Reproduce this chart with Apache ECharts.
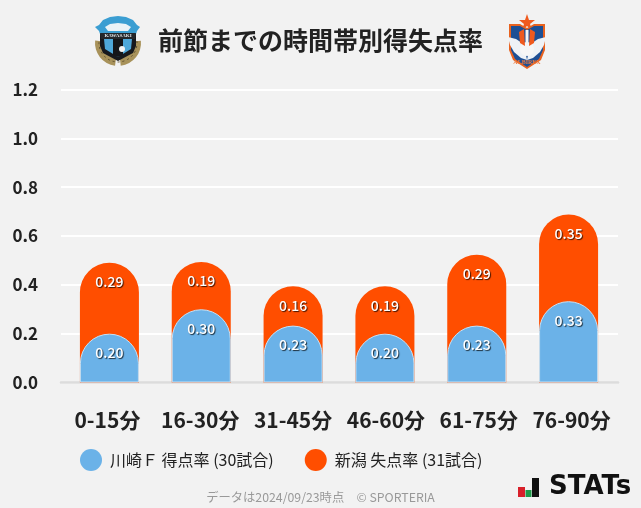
<!DOCTYPE html>
<html><head><meta charset="utf-8">
<style>html,body{margin:0;padding:0;background:#f2f2f2}#c{width:641px;height:508px}</style>
<script src="https://cdn.jsdelivr.net/npm/echarts@6/dist/echarts.min.js"></script>
</head><body><div id="c"></div>
<script>
const categories = ['0-15分','16-30分','31-45分','46-60分','61-75分','76-90分'];
const kawasakiFor = [0.200,0.300,0.233,0.200,0.233,0.333];
const niigataAgainst = [0.290,0.194,0.161,0.194,0.290,0.355];
const kawasakiName = '川崎Ｆ 得点率 (30試合)';
const niigataName = '新潟 失点率 (31試合)';
const titleText = '前節までの時間帯別得失点率';
const footerText = 'データは2024/09/23時点　© SPORTERIA';
const FONT = '"Noto Sans CJK JP","Noto Sans",sans-serif';

const stackTop = niigataAgainst.map((v,i)=>+(v+kawasakiFor[i]).toFixed(3));
const poly = (points,fill)=>({type:'polygon',shape:{points},style:{fill}});
const valueLabel = (vals)=>({show:true,position:'insideTop',distance:12,color:'#fff',fontFamily:FONT,
  fontSize:14,fontWeight:500,textShadowColor:'rgba(0,0,0,.75)',textShadowBlur:1,textShadowOffsetX:1,textShadowOffsetY:1,
  formatter:p=>vals[p.dataIndex].toFixed(2)});

const kawasakiBadge = {type:'group',children:[
  {type:'sector',shape:{cx:118,cy:43,r:23,r0:15,startAngle:-0.1,endAngle:1.45},style:{fill:'#a8925a'}},
  {type:'sector',shape:{cx:118,cy:43,r:23,r0:15,startAngle:1.7,endAngle:3.25},style:{fill:'#a8925a'}},
  {type:'arc',shape:{cx:118,cy:43,r:19,startAngle:-0.1,endAngle:3.25},style:{stroke:'#5e5030',lineWidth:1,lineDash:[2,3],fill:null}},
  poly([[100,33],[136,33],[136,46],[133,53],[118,61],[103,53],[100,46]],'#17191d'),
  poly([[104,39],[132,39],[131,49],[118,57],[105,49]],'#4ea8da'),
  poly([[113,39],[123,39],[123,55],[118,57],[113,55]],'#14161a'),
  {type:'circle',shape:{cx:122,cy:49,r:3},style:{fill:'#f4f4f4'}},
  poly([[95,27],[99,25],[103,20],[110,17],[118,16],[126,17],[133,20],[137,25],[140,27],[137,31],[136,34],[100,34],[99,31]],'#3b9ed2'),
  poly([[105,27],[110,24],[118,23],[126,24],[131,27],[128,31],[108,31]],'#eaf3f7'),
  poly([[100,33],[136,33],[135,39],[101,39]],'#24272b'),
  {type:'text',style:{x:118,y:36,text:'KAWASAKI',fill:'#dfe3e6',font:'700 5px "Liberation Serif"',align:'center',verticalAlign:'middle'}}
]};
const niigataBadge = {type:'group',children:[
  poly([[527,14],[529,20],[535,20],[530,24],[532,30],[527,26],[522,30],[524,24],[519,20],[525,20]],'#ef5a1e'),
  poly([[509,24],[520,24],[527,28],[534,24],[545,24],[545,50],[541,60],[527,69],[513,60],[509,50]],'#e8621f'),
  poly([[511,26],[520,26],[527,30],[534,26],[543,26],[543,50],[539,59],[527,67],[515,59],[511,50]],'#1d4f94'),
  poly([[508,37],[516,39],[522,43],[525,50],[527,60],[521,58],[514,52],[510,45]],'#eef2f6'),
  poly([[546,37],[538,39],[532,43],[529,50],[527,60],[533,58],[540,52],[544,45]],'#eef2f6'),
  {type:'circle',shape:{cx:527,cy:49,r:7},style:{fill:'#f6f6f6'}},
  poly([[519,32],[524,29],[525,46],[520,43]],'#ef5a1e'),
  poly([[530,29],[535,32],[534,43],[529,46]],'#ef5a1e'),
  poly([[525.5,30],[528.5,30],[528.5,52],[525.5,52]],'#f5f5f5'),
  {type:'text',style:{x:527,y:62,text:'ALBIREX',fill:'#ef7a3e',font:'700 6px "Liberation Serif"',align:'center',verticalAlign:'middle'}}
]};
const statsLogo = {type:'group',children:[
  {type:'rect',shape:{x:518,y:487,width:7,height:10},style:{fill:'#d8202a'}},
  {type:'rect',shape:{x:525.5,y:490,width:6,height:7},style:{fill:'#1f9a4a'}},
  {type:'rect',shape:{x:532,y:478,width:7,height:19},style:{fill:'#111'}},
  {type:'text',style:{x:549,y:487.5,text:'STATs',fill:'#111',font:'700 26px "DejaVu Sans",sans-serif',align:'left',verticalAlign:'middle'}}
]};

const chart = echarts.init(document.getElementById('c'),null,{renderer:'canvas'});
chart.setOption({
  animation:false,
  backgroundColor:'#f2f2f2',
  title:{text:titleText,left:'center',top:23,textStyle:{fontFamily:FONT,fontSize:25,fontWeight:700,color:'#222'}},
  legend:{left:75,top:444,icon:'circle',itemWidth:22,itemHeight:22,itemGap:31,itemStyle:{borderWidth:0},
    data:[kawasakiName,niigataName],textStyle:{fontFamily:FONT,fontSize:16,color:'#222',padding:[0,0,0,3]}},
  grid:[
    {left:63.5,width:551,top:89.5,height:293},
    {left:61,width:557,top:89.5,height:293}
  ],
  xAxis:[
    {type:'category',gridIndex:0,data:categories,axisLine:{show:false},axisTick:{show:false},axisLabel:{show:false}},
    {type:'category',gridIndex:1,data:categories,axisLine:{show:true,lineStyle:{color:'#dcdcdc',width:2.5}},axisTick:{show:false},
      axisLabel:{margin:27,fontFamily:FONT,fontSize:21,fontWeight:700,color:'#222',interval:0}}
  ],
  yAxis:[
    {type:'value',gridIndex:0,min:0,max:1.2,interval:0.2,show:false,splitLine:{show:false}},
    {type:'value',gridIndex:1,min:0,max:1.2,interval:0.2,axisLine:{show:false},axisTick:{show:false},
      splitLine:{show:true,lineStyle:{color:'#ffffff',width:2}},
      axisLabel:{margin:23,padding:[0,0,4,0],fontFamily:FONT,fontSize:17,fontWeight:700,color:'#222',formatter:v=>v.toFixed(1)}}
  ],
  series:[
    {name:niigataName,type:'bar',xAxisIndex:0,yAxisIndex:0,data:stackTop,barWidth:59,barGap:'-100%',z:3,
      itemStyle:{color:'#ff4e00',borderRadius:[30,30,0,0]},label:valueLabel(niigataAgainst)},
    {name:kawasakiName,type:'bar',xAxisIndex:0,yAxisIndex:0,data:kawasakiFor,barWidth:59,barGap:'-100%',z:4,
      itemStyle:{color:'#6bb2e8',borderRadius:[30,30,0,0],borderColor:'#c4e2f7',borderWidth:1},label:valueLabel(kawasakiFor)}
  ],
  graphic:[kawasakiBadge,niigataBadge,statsLogo,
    {type:'text',style:{x:320.5,y:497,text:footerText,fill:'#999',font:'12.3px "Noto Sans CJK JP"',align:'center',verticalAlign:'middle'}}
  ]
});
</script></body></html>
